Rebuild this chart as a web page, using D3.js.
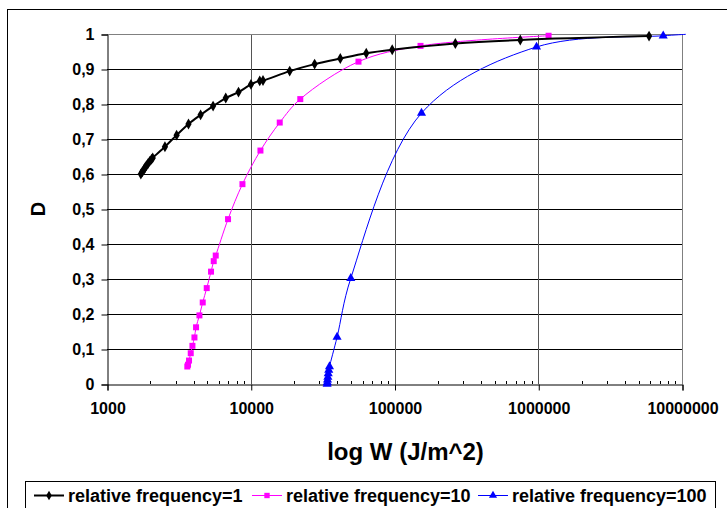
<!DOCTYPE html>
<html>
<head>
<meta charset="utf-8">
<script src="https://cdn.jsdelivr.net/npm/d3@7"></script>
<style>
  body { margin: 0; background: #fff; }
  text { font-family: Arial, "Liberation Sans", sans-serif; font-weight: bold; }
</style>
</head>
<body>
<div id="chart"></div>
<script>
// Data
var w1 = [1720, 1760, 1800, 1840, 1880, 1930, 1980, 2040, 2080, 2530, 3050, 3690, 4480, 5470, 6700, 8220, 10030, 11550, 12170, 18660, 27820, 41970, 63600, 96400, 265000, 750000, 5900000];
var d1 = [0.600, 0.606, 0.612, 0.618, 0.624, 0.630, 0.636, 0.642, 0.646, 0.678, 0.711, 0.743, 0.769, 0.794, 0.817, 0.834, 0.856, 0.866, 0.867, 0.894, 0.914, 0.930, 0.945, 0.955, 0.973, 0.983, 0.994];

var w10 = [3620, 3662, 3721, 3824, 3929, 4058, 4164, 4395, 4634, 4941, 5293, 5527, 5707, 6950, 8755, 11680, 15910, 22110, 56170, 151700, 1180000];
var d10 = [0.050, 0.055, 0.067, 0.088, 0.109, 0.133, 0.162, 0.196, 0.233, 0.274, 0.321, 0.351, 0.367, 0.471, 0.571, 0.667, 0.747, 0.814, 0.921, 0.966, 0.995];

var w100 = [34000, 34100, 34200, 34400, 34600, 34900, 35300, 39860, 49650, 154100, 972800, 7400000, 10640000];
var d100 = [0.000, 0.005, 0.012, 0.020, 0.030, 0.040, 0.050, 0.134, 0.302, 0.774, 0.963, 0.995, 0.999];

var xTicks = [1000, 10000, 100000, 1000000, 10000000];
var yTicks = [0, 0.1, 0.2, 0.3, 0.4, 0.5, 0.6, 0.7, 0.8, 0.9, 1];
var seriesNames = ['relative frequency=1', 'relative frequency=10', 'relative frequency=100'];

// Geometry
var width = 727, height = 508;
var plot = {left: 107, top: 34, right: 682, bottom: 384};

var svg = d3.select('#chart').append('svg')
    .attr('width', width)
    .attr('height', height);

// outer chart frame (runs off the picture)
svg.append('rect')
    .attr('x', 7.5).attr('y', 9.5)
    .attr('width', 800).attr('height', 600)
    .attr('fill', 'none').attr('stroke', '#000').attr('stroke-width', 1);

var x = d3.scaleLog().domain([1000, 10000000]).range([plot.left, plot.right]);
var y = d3.scaleLinear().domain([0, 1]).range([plot.bottom, plot.top]);

var fmt = function(d) { return String(d).replace('.', ','); };

// horizontal gridlines
svg.append('g').selectAll('line')
  .data(yTicks.slice(1, -1))
  .enter().append('line')
    .attr('x1', plot.left).attr('x2', plot.right)
    .attr('y1', function(d) { return Math.round(y(d)) + 0.5; })
    .attr('y2', function(d) { return Math.round(y(d)) + 0.5; })
    .attr('stroke', '#000');

// vertical gridlines
svg.append('g').selectAll('line')
  .data(xTicks.slice(1, -1))
  .enter().append('line')
    .attr('x1', function(d) { return Math.round(x(d)) + 0.5; })
    .attr('x2', function(d) { return Math.round(x(d)) + 0.5; })
    .attr('y1', plot.top).attr('y2', plot.bottom)
    .attr('stroke', '#555');

// plot border top / right
svg.append('path')
    .attr('d', 'M' + (plot.left) + ',' + (plot.top + 0.5) + 'H' + (plot.right + 0.5) + 'V' + plot.bottom)
    .attr('fill', 'none').attr('stroke', '#808080');

// y axis
var yAxis = d3.axisLeft(y).tickValues(yTicks).tickFormat(fmt).tickSize(6).tickPadding(7);
var gy = svg.append('g')
    .attr('transform', 'translate(' + (plot.left + 0.5) + ',0.5)')
    .call(yAxis);
gy.select('.domain').attr('stroke', '#000');
gy.selectAll('.tick line').attr('stroke', '#000');
gy.selectAll('.tick text').attr('font-size', 16).attr('fill', '#000')
    .style('font-family', 'Arial, "Liberation Sans", sans-serif');

// x axis: minor ticks inside, major ticks outside
var minor = [];
xTicks.slice(0, -1).forEach(function(dec) {
  for (var k = 2; k < 10; k++) minor.push(dec * k);
});
svg.append('g').selectAll('line')
  .data(minor)
  .enter().append('line')
    .attr('x1', function(d) { return Math.round(x(d)) + 0.5; })
    .attr('x2', function(d) { return Math.round(x(d)) + 0.5; })
    .attr('y1', plot.bottom - 3).attr('y2', plot.bottom)
    .attr('stroke', '#000');

var xAxis = d3.axisBottom(x).tickValues(xTicks).tickFormat(d3.format('d')).tickSize(6).tickPadding(12);
var gx = svg.append('g')
    .attr('transform', 'translate(0.5,' + (plot.bottom + 0.5) + ')')
    .call(xAxis);
gx.select('.domain').attr('stroke', '#000');
gx.selectAll('.tick line').attr('stroke', '#000');
gx.selectAll('.tick text').attr('font-size', 16).attr('fill', '#000')
    .style('font-family', 'Arial, "Liberation Sans", sans-serif');

// axis titles
svg.append('text')
    .attr('x', (plot.left + plot.right) / 2 + 11)
    .attr('y', 460)
    .attr('text-anchor', 'middle')
    .attr('font-size', 24)
    .text('log W (J/m^2)');

svg.append('text')
    .attr('transform', 'translate(45,' + ((plot.top + plot.bottom) / 2) + ') rotate(-90)')
    .attr('text-anchor', 'middle')
    .attr('font-size', 20)
    .text('D');

// series
var series = [
  {w: w1, d: d1, color: '#000000', width: 2, symbol: d3.symbolDiamond, size: 34},
  {w: w10, d: d10, color: '#FF00FF', width: 1, symbol: d3.symbolSquare, size: 36},
  {w: w100, d: d100, color: '#0000FF', width: 1, symbol: d3.symbolTriangle, size: 36}
];

svg.append('clipPath').attr('id', 'clip')
  .append('rect')
    .attr('x', plot.left - 10).attr('y', plot.top - 10)
    .attr('width', plot.right - plot.left + 14).attr('height', plot.bottom - plot.top + 20);

var line = d3.line()
    .x(function(p) { return x(p[0]); })
    .y(function(p) { return y(p[1]); })
    .curve(d3.curveCatmullRom.alpha(0.5));

var sg = svg.append('g').attr('clip-path', 'url(#clip)');
series.slice().reverse().forEach(function(s) {
  var pts = s.w.map(function(w, i) { return [w, s.d[i]]; });
  sg.append('path')
      .datum(pts)
      .attr('d', line)
      .attr('fill', 'none')
      .attr('stroke', s.color)
      .attr('stroke-width', s.width);
  sg.selectAll(null)
    .data(pts.filter(function(p) { return p[0] <= 10000000; }))
    .enter().append('path')
      .attr('transform', function(p) { return 'translate(' + x(p[0]) + ',' + y(p[1]) + ')'; })
      .attr('d', d3.symbol().type(s.symbol).size(s.size))
      .attr('fill', s.color);
});

// legend
var legend = svg.append('g');
legend.append('rect')
    .attr('x', 25.5).attr('y', 481.5)
    .attr('width', 690).attr('height', 40)
    .attr('fill', '#fff').attr('stroke', '#000');

var legendX = [34, 252, 478];
series.forEach(function(s, i) {
  var g = legend.append('g').attr('transform', 'translate(' + legendX[i] + ',495.5)');
  g.append('line')
      .attr('x1', 0).attr('x2', 30)
      .attr('stroke', s.color).attr('stroke-width', s.width);
  g.append('path')
      .attr('transform', 'translate(15,0)')
      .attr('d', d3.symbol().type(s.symbol).size(s.size * 0.8))
      .attr('fill', s.color);
  g.append('text')
      .attr('x', 34).attr('y', 6.5)
      .attr('font-size', 18)
      .text(seriesNames[i]);
});
</script>
</body>
</html>
